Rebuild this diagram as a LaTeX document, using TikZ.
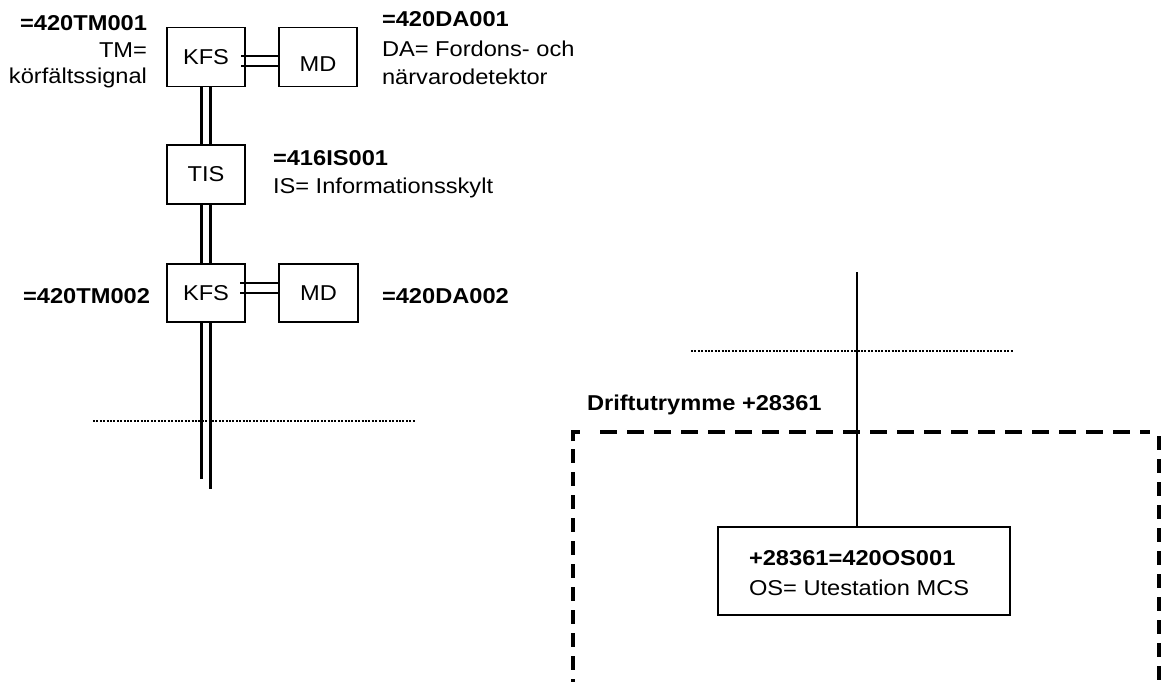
\documentclass[tikz,border=0pt]{standalone}
\usepackage{fontspec}
\setmainfont{Liberation Sans}[FakeStretch=1.1]
\usetikzlibrary{calc}
\begin{document}
\begin{tikzpicture}[x=1pt,y=-1pt,
  every node/.style={font=\fontsize{21.5}{26}\selectfont, inner sep=0pt, outer sep=0pt},
  unit/.style={draw, line width=1.5pt, minimum width=78pt, minimum height=59pt},
  code/.style={font=\fontsize{21.5}{26}\selectfont\bfseries},
  wire/.style={line width=2.4pt},
  level/.style={line width=1.9pt, dash pattern=on 2pt off 1.4pt},
  room/.style={line width=4pt},
]
\useasboundingbox (0,0) rectangle (1163,681);
\clip (0,0) rectangle (1163,681);

% equipment boxes
\node[unit] (kfs1) at (206,57) {KFS};
\node[unit] (md1) at (318,57) {};
\node (md1t) at ($(md1)+(0,7)$) {MD};
\node[unit] (tis) at (206,174.5) {TIS};
\node[unit, minimum height=58pt] (kfs2) at (206,293) {KFS};
\node[unit, minimum height=58pt, minimum width=79pt] (md2) at (318.5,293) {MD};
\node[draw, line width=1.5pt, minimum width=292pt, minimum height=88pt] (os) at (864,571) {};

% designations
\node[code, anchor=base east] (tm1) at (147,30) {=420TM001};
\node[anchor=base east] (tm1a) at (147,57) {TM=};
\node[anchor=base east] (tm1b) at (147,83) {körfältssignal};
\node[code, anchor=base west] (da1) at (382,26) {=420DA001};
\node[anchor=base west] (da1a) at (382,56) {DA= Fordons- och};
\node[anchor=base west] (da1b) at (382,84) {närvarodetektor};
\node[code, anchor=base west] (is1) at (273,165) {=416IS001};
\node[anchor=base west] (is1a) at (273,193) {IS= Informationsskylt};
\node[code, anchor=base east] (tm2) at (150,303) {=420TM002};
\node[code, anchor=base west] (da2) at (382,303) {=420DA002};
\node[code, anchor=base west] (room) at (587,410) {Driftutrymme +28361};
\node[code, anchor=base west] (os1) at (749,565) {+28361=420OS001};
\node[anchor=base west] (os2) at (749,595) {OS= Utestation MCS};

% KFS -- MD double links
\coordinate (h1a) at ($(kfs1.east)+(-4,-1)$);
\coordinate (h1b) at ($(kfs1.east)+(-4,9)$);
\draw[wire] (h1a) -- (h1a -| md1.west);
\draw[wire] (h1b) -- (h1b -| md1.west);
\coordinate (h2a) at ($(kfs2.east)+(-5,-10)$);
\coordinate (h2b) at ($(kfs2.east)+(-5,0)$);
\draw[wire] (h2a) -- (h2a -| md2.west);
\draw[wire] (h2b) -- (h2b -| md2.west);

% vertical double bus
\foreach \dx in {-4.5,4.5}{
  \draw[wire] ($(kfs1.south)+(\dx,0)$) -- ($(tis.north)+(\dx,0)$);
  \draw[wire] ($(tis.south)+(\dx,0)$) -- ($(kfs2.north)+(\dx,0)$);
}
\coordinate (tailL) at (201.5,479);
\coordinate (tailR) at (210.5,489);
\draw[wire] ($(kfs2.south)+(-4.5,0)$) -- (tailL);
\draw[wire] ($(kfs2.south)+(4.5,0)$) -- (tailR);

% single feed to the outstation
\coordinate (feed) at (857,272);
\draw[wire] (feed) -- (feed |- os.north);

% section boundaries
\draw[level] (93,421) -- (415,421);
\draw[level] (691,351) -- (1013,351);

% room boundary
\draw[room] (573,441) -- (573,432) -- (580,432);
\draw[room, dash pattern=on 17pt off 10pt] (600,432) -- (1150,432);
\draw[room, dash pattern=on 14pt off 9pt] (573,449) -- (573,690);
\draw[room, dash pattern=on 14pt off 9pt] (1159,436) -- (1159,690);
\end{tikzpicture}
\end{document}
